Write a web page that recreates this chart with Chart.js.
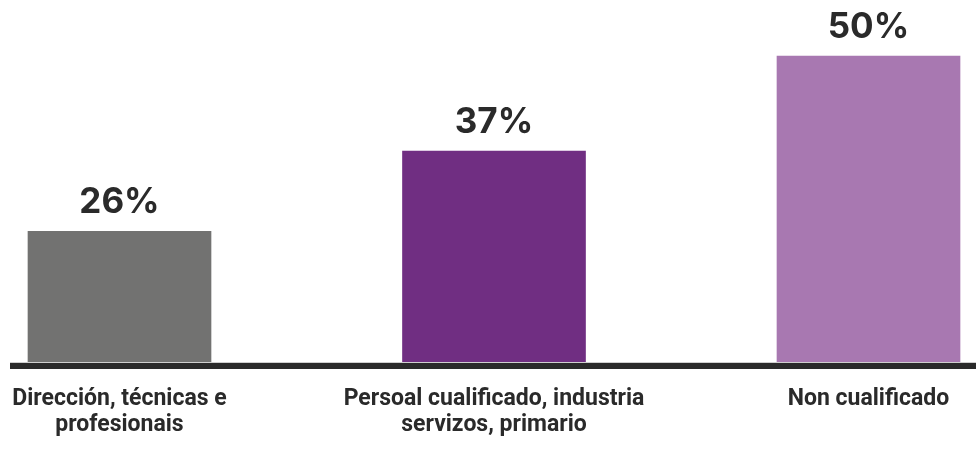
<!DOCTYPE html>
<html>
<head>
<meta charset="utf-8">
<script src="https://cdn.jsdelivr.net/npm/chart.js@4/dist/chart.umd.min.js"></script>
<style>
  html, body { margin: 0; padding: 0; background: #ffffff; }
  #wrap { width: 976px; height: 451px; position: relative; }
</style>
</head>
<body>
<div id="wrap"><canvas id="chart"></canvas></div>
<script>
// Occupational groups (Galician labels, wrapped over lines)
const categories = [
  ["Dirección, técnicas e", "profesionais"],
  ["Persoal cualificado, industria", "servizos, primario"],
  "Non cualificado"
];
// Share per group, in percent
const values = [26, 37, 50];
const barColors = ["#727271", "#702e82", "#a878b1"];
const textColor = "#2a2a2a";

// Value axis window (the axis itself is hidden)
const axisMin = 8;
const axisMax = 50;

// Value label above every bar
const valueLabels = {
  id: "valueLabels",
  afterDatasetsDraw(chart) {
    const { ctx } = chart;
    const meta = chart.getDatasetMeta(0);
    ctx.save();
    ctx.fillStyle = textColor;
    ctx.font = "700 35px Inter, 'Open Sans', sans-serif";
    ctx.textAlign = "center";
    ctx.textBaseline = "alphabetic";
    meta.data.forEach((bar, i) => {
      ctx.fillText(values[i] + "%", bar.x, bar.y - 18);
    });
    ctx.restore();
  }
};

// Heavy base rule running across the full width
const baseRule = {
  id: "baseRule",
  afterDatasetsDraw(chart) {
    const { ctx, chartArea } = chart;
    ctx.save();
    ctx.fillStyle = "#cfcfcf";
    ctx.fillRect(10, chartArea.bottom - 1, chart.width - 10, 1);
    ctx.fillStyle = textColor;
    ctx.fillRect(10, chartArea.bottom, chart.width - 10, 6);
    ctx.restore();
  }
};

new Chart(document.getElementById("chart"), {
  type: "bar",
  data: {
    labels: categories,
    datasets: [{
      data: values,
      base: axisMin,
      backgroundColor: barColors,
      borderWidth: 0,
      barThickness: 183,
      clip: false
    }]
  },
  options: {
    responsive: true,
    maintainAspectRatio: false,
    animation: false,
    layout: { padding: { left: 119.5, right: 107.5, top: 56, bottom: 0 } },
    plugins: {
      legend: { display: false },
      tooltip: { enabled: false }
    },
    scales: {
      x: {
        offset: false,
        grid: { display: false, drawTicks: false },
        border: { display: false },
        ticks: {
          color: textColor,
          font: { family: "Roboto, 'Liberation Sans', sans-serif", weight: "bold", size: 23, lineHeight: "26.5px" },
          padding: 22.5,
          maxRotation: 0,
          autoSkip: false
        },
        // labels may run past the plot edges; keep a fixed band below the plot
        afterFit(scale) {
          scale.paddingLeft = 0;
          scale.paddingRight = 0;
          scale.height = 88;
        }
      },
      y: {
        display: false,
        min: axisMin,
        max: axisMax
      }
    }
  },
  plugins: [baseRule, valueLabels]
});
</script>
</body>
</html>
